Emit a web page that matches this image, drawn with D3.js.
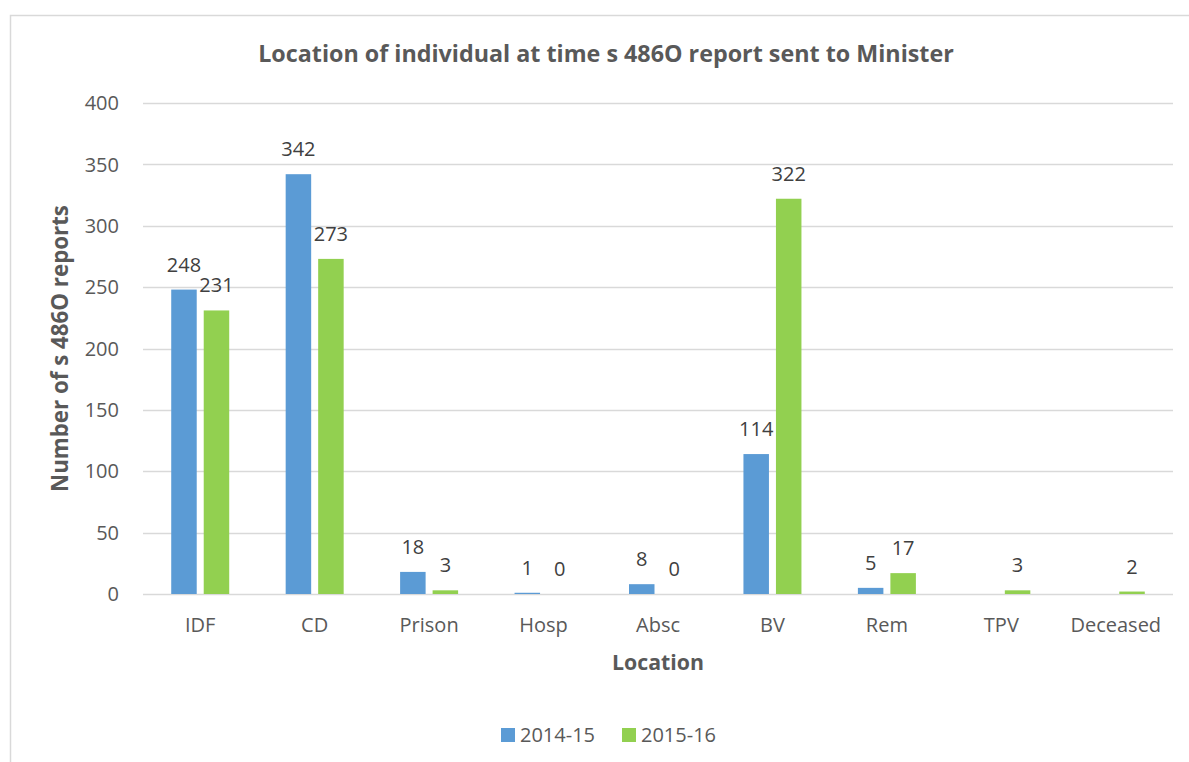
<!DOCTYPE html>
<html>
<head>
<meta charset="utf-8">
<script src="https://cdn.jsdelivr.net/npm/d3@7"></script>
<style>
  html, body { margin: 0; padding: 0; background: #fff; }
  svg { display: block; }
  text { font-family: "Open Sans", "DejaVu Sans", sans-serif; }
</style>
</head>
<body>
<svg id="chart" width="1189" height="762"></svg>
<script>
const categories = ["IDF", "CD", "Prison", "Hosp", "Absc", "BV", "Rem", "TPV", "Deceased"];
const seriesNames = ["2014-15", "2015-16"];
const values2014 = [248, 342, 18, 1, 8, 114, 5, null, null];
const values2015 = [231, 273, 3, 0, 0, 322, 17, 3, 2];
const yTicks = [0, 50, 100, 150, 200, 250, 300, 350, 400];
const colors = ["#5B9BD5", "#92D050"];
const titleText = "Location of individual at time s 486O report sent to Minister";
const yTitle = "Number of s 486O reports";
const xTitle = "Location";

const svg = d3.select("#chart");
const textColor = "#595959";
const gridColor = "#D9D9D9";

// chart border
svg.append("rect").attr("x", 10.5).attr("y", 15.5).attr("width", 1400).attr("height", 1000)
  .attr("fill", "none").attr("stroke", gridColor).attr("stroke-width", 1.5);

const plot = { left: 143, right: 1173, top: 103, bottom: 594 };

const x = d3.scaleBand().domain(categories).range([plot.left, plot.right]).paddingInner(0).paddingOuter(0);
const xs = d3.scaleBand().domain(seriesNames).range([-29, 29]).paddingInner(7 / 32.5).paddingOuter(0);
const y = d3.scaleLinear().domain([0, 400]).range([plot.bottom, plot.top]);

// gridlines
svg.append("g").selectAll("line").data(yTicks).join("line")
  .attr("x1", plot.left).attr("x2", plot.right)
  .attr("y1", d => Math.round(y(d)) + 0.5).attr("y2", d => Math.round(y(d)) + 0.5)
  .attr("stroke", gridColor).attr("stroke-width", 1.5);

// y tick labels
svg.append("g").selectAll("text").data(yTicks).join("text")
  .attr("x", 119).attr("y", d => y(d)).attr("dy", "0.36em")
  .attr("text-anchor", "end").attr("font-size", 20).attr("fill", textColor)
  .text(d => d);

// x category labels
svg.append("g").selectAll("text").data(categories).join("text")
  .attr("x", d => x(d) + x.bandwidth() / 2).attr("y", 632)
  .attr("text-anchor", "middle").attr("font-size", 20).attr("fill", textColor)
  .text(d => d);

// bars
const seriesData = [values2014, values2015];
seriesData.forEach((vals, si) => {
  const data = categories.map((c, i) => ({ c, v: vals[i] })).filter(d => d.v !== null);
  const g = svg.append("g");
  g.selectAll("rect").data(data).join("rect")
    .attr("x", d => x(d.c) + x.bandwidth() / 2 + xs(seriesNames[si]))
    .attr("width", xs.bandwidth())
    .attr("y", d => y(d.v))
    .attr("height", d => y(0) - y(d.v))
    .attr("fill", colors[si]);
  g.selectAll("text").data(data).join("text")
    .attr("x", d => x(d.c) + x.bandwidth() / 2 + xs(seriesNames[si]) + xs.bandwidth() / 2)
    .attr("y", d => y(d.v) - 18)
    .attr("text-anchor", "middle").attr("font-size", 20).attr("fill", "#404040")
    .text(d => d.v);
});

function fitText(sel, width) {
  const len = sel.node().getComputedTextLength();
  const fs = parseFloat(sel.attr("font-size"));
  sel.attr("font-size", fs * width / len);
}

// title
const t = svg.append("text").attr("x", 606).attr("y", 62).attr("text-anchor", "middle")
  .attr("font-size", 22).attr("font-weight", "bold").attr("fill", textColor).text(titleText);
fitText(t, 696);

// y title
const yt = svg.append("text").attr("transform", `translate(68,${(plot.top + plot.bottom) / 2}) rotate(-90)`)
  .attr("text-anchor", "middle").attr("font-size", 20).attr("font-weight", "bold")
  .attr("fill", textColor).text(yTitle);
fitText(yt, 287);

// x title
const xt = svg.append("text").attr("x", (plot.left + plot.right) / 2).attr("y", 670)
  .attr("text-anchor", "middle").attr("font-size", 20).attr("font-weight", "bold")
  .attr("fill", textColor).text(xTitle);
fitText(xt, 92);

// legend
const legendItems = [{ name: seriesNames[0], x: 501 }, { name: seriesNames[1], x: 622 }];
const lg = svg.append("g");
legendItems.forEach((it, i) => {
  lg.append("rect").attr("x", it.x).attr("y", 728).attr("width", 14).attr("height", 14).attr("fill", colors[i]);
  lg.append("text").attr("x", it.x + 19).attr("y", 742).attr("font-size", 20).attr("fill", textColor).text(it.name);
});
</script>
</body>
</html>
